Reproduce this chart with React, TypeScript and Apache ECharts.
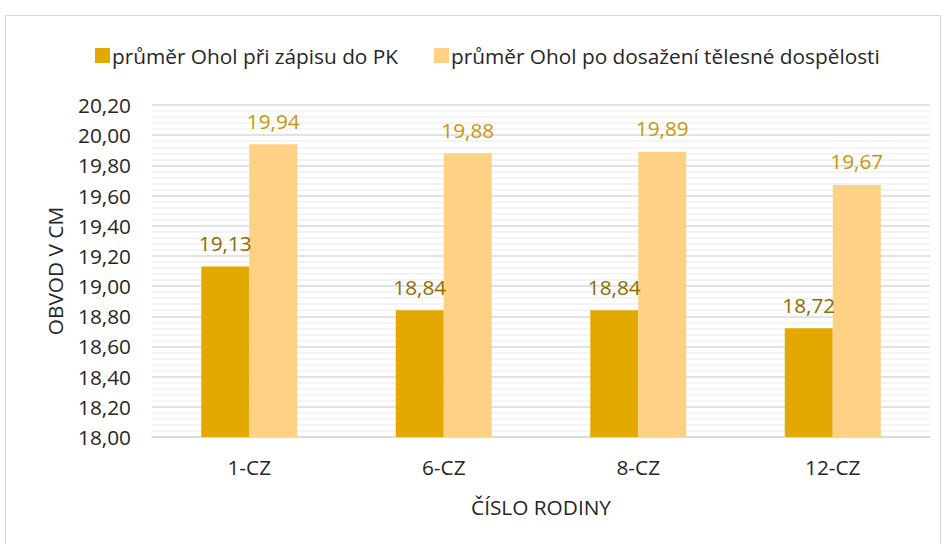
import React, { useEffect, useRef } from "react";
import * as echarts from "echarts";

const categories = ["1-CZ", "6-CZ", "8-CZ", "12-CZ"];
const seriesNames = [
  "průměr Ohol při zápisu do PK",
  "průměr Ohol po dosažení tělesné dospělosti",
];
const atEnrollment = [19.13, 18.84, 18.84, 18.72];
const atAdulthood = [19.94, 19.88, 19.89, 19.67];
const yMin = 18;
const yMax = 20.2;
const yInterval = 0.2;
const yAxisTitle = "OBVOD V CM";
const xAxisTitle = "ČÍSLO RODINY";

const fmt = (v: number) => v.toFixed(2).replace(".", ",");
const FONT = "'Open Sans', 'Noto Sans', sans-serif";
const FS = 20.8;

export default function App() {
  const ref = useRef<HTMLDivElement>(null);
  useEffect(() => {
    if (!ref.current) return;
    const chart = echarts.init(ref.current, undefined, { renderer: "svg" });
    chart.setOption({
      animation: false,
      backgroundColor: "#ffffff",
      textStyle: { fontFamily: FONT },
      graphic: [
        {
          type: "rect",
          shape: { x: 5.5, y: 15.5, width: 935, height: 560 },
          style: { fill: "none", stroke: "#d9d9d9", lineWidth: 1 },
          silent: true,
        },
        {
          type: "text",
          x: 55,
          y: 271,
          rotation: Math.PI / 2,
          silent: true,
          style: {
            text: yAxisTitle,
            fontFamily: FONT,
            fontSize: FS,
            fill: "#262626",
            align: "center",
            verticalAlign: "middle",
          },
        },
      ],
      legend: {
        top: 40,
        left: 90,
        itemWidth: 15,
        itemHeight: 15,
        itemGap: 36,
        icon: "rect",
        textStyle: { fontFamily: FONT, fontSize: FS, color: "#262626", padding: [0, 0, 0, -3] },
        data: seriesNames,
      },
      grid: { left: 152, right: 14, top: 105, bottom: 107 },
      xAxis: {
        type: "category",
        data: categories,
        axisLine: { show: true, lineStyle: { color: "#d9d9d9", width: 1.5 } },
        axisTick: { show: false },
        axisLabel: { fontFamily: FONT, fontSize: FS, color: "#262626", margin: 19 },
        name: xAxisTitle,
        nameLocation: "middle",
        nameGap: 59,
        nameTextStyle: { fontFamily: FONT, fontSize: FS, color: "#262626" },
      },
      yAxis: {
        type: "value",
        min: yMin,
        max: yMax,
        interval: yInterval,
        axisLine: { show: false },
        axisTick: { show: false },
        axisLabel: {
          fontFamily: FONT,
          fontSize: FS,
          color: "#262626",
          margin: 21,
          formatter: (v: number) => fmt(v),
        },
        splitLine: { show: true, lineStyle: { color: "#d9d9d9", width: 1.5 } },
        minorTick: { show: false, splitNumber: 5 },
        minorSplitLine: { show: true, lineStyle: { color: "#f0f0f0", width: 1.5 } },
      },
      series: [
        {
          name: seriesNames[0],
          type: "bar",
          data: atEnrollment,
          barWidth: 48,
          barGap: "0%",
          itemStyle: { color: "#E3A900" },
          label: {
            show: true,
            position: "top",
            distance: 13,
            fontFamily: FONT,
            fontSize: FS,
            color: "#8C6D00",
            formatter: (p: any) => fmt(p.value),
          },
        },
        {
          name: seriesNames[1],
          type: "bar",
          data: atAdulthood,
          barWidth: 48,
          barGap: "0%",
          itemStyle: { color: "#FFD185" },
          label: {
            show: true,
            position: "top",
            distance: 13,
            fontFamily: FONT,
            fontSize: FS,
            color: "#C9980A",
            formatter: (p: any) => fmt(p.value),
          },
        },
      ],
    });
    return () => chart.dispose();
  }, []);
  return (
    <div
      ref={ref}
      style={{ position: "fixed", left: 0, top: 0, width: 944, height: 544 }}
    />
  );
}
